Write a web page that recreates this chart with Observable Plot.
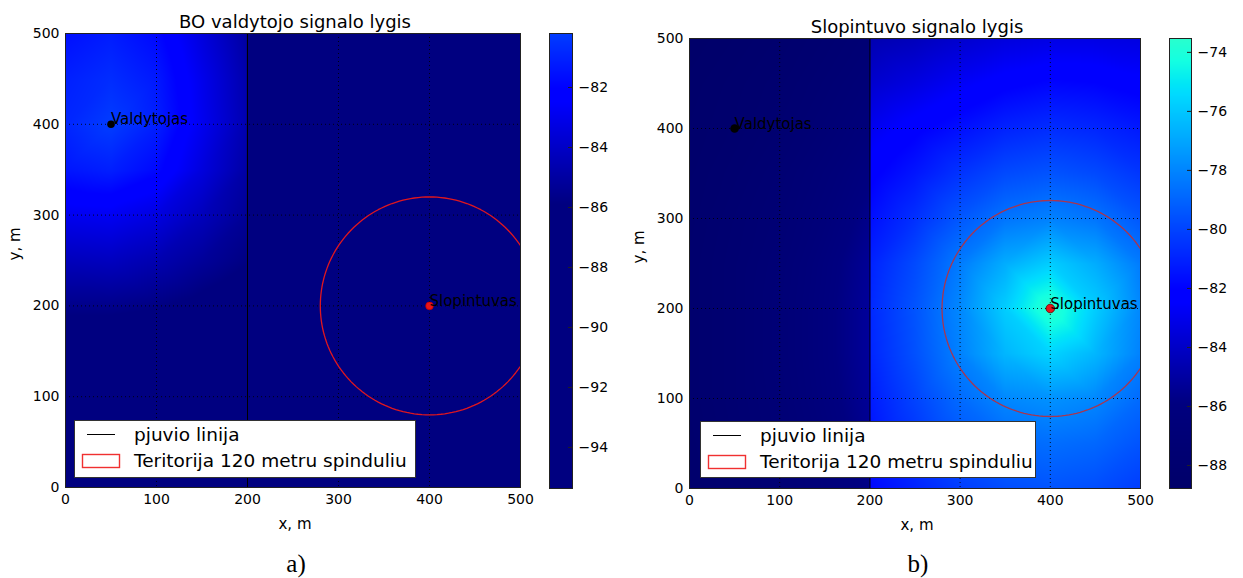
<!DOCTYPE html>
<html>
<head>
<meta charset="utf-8">
<script src="https://cdn.jsdelivr.net/npm/d3@7"></script>
<script src="https://cdn.jsdelivr.net/npm/@observablehq/plot@0.6"></script>
<style>
  body { margin: 0; background: #fff; }
  #chart { position: relative; width: 1243px; height: 578px; overflow: hidden; font-family: "DejaVu Sans", sans-serif; color: #000; }
  .legend { position: absolute; background: #fff; border: 1px solid #333; box-sizing: border-box; }
  .legend span { position: absolute; font-size: 18.5px; line-height: 22px; white-space: nowrap; }
</style>
</head>
<body>
<div id="chart"></div>
<script>
// Sample grid (metres). The two columns at 199/201 straddle the cut line.
const xCols = [0, 50, 100, 150, 199, 201, 250, 300, 350, 400, 450, 500];
const yRows = [500, 450, 400, 350, 300, 250, 200, 150, 100, 50, 0];

// Controller (BO) signal level, dBm — rows follow yRows, columns follow xCols
const levelA = [
  [-81.6, -81.2, -81.8, -83.4, -85.0, -90.2, -90.8, -91.5, -92.1, -92.6, -93.1, -93.5],
  [-81.1, -80.7, -81.3, -83.0, -84.7, -90.1, -90.7, -91.4, -92.0, -92.6, -93.1, -93.5],
  [-80.9, -80.2, -81.1, -82.9, -84.6, -90.0, -90.7, -91.4, -92.0, -92.6, -93.1, -93.6],
  [-81.4, -81.1, -81.8, -83.4, -84.9, -90.2, -90.8, -91.5, -92.1, -92.7, -93.2, -93.7],
  [-82.9, -82.8, -83.3, -84.3, -85.3, -90.5, -91.1, -91.7, -92.3, -92.9, -93.4, -93.8],
  [-84.3, -84.2, -84.6, -85.2, -85.8, -91.0, -91.5, -92.1, -92.6, -93.1, -93.6, -94.0],
  [-85.6, -85.6, -85.8, -86.2, -86.7, -91.5, -92.0, -92.5, -93.0, -93.5, -93.9, -94.3],
  [-87.0, -87.0, -87.2, -87.6, -88.0, -92.0, -92.5, -93.0, -93.4, -93.9, -94.3, -94.6],
  [-88.0, -88.0, -88.2, -88.5, -88.8, -92.6, -93.0, -93.4, -93.9, -94.3, -94.6, -94.9],
  [-89.0, -89.0, -89.0, -89.3, -89.6, -93.1, -93.5, -93.9, -94.3, -94.6, -94.9, -95.2],
  [-90.0, -90.0, -90.0, -90.2, -90.4, -93.6, -94.0, -94.3, -94.7, -95.0, -95.2, -95.37]
];

// Jammer signal level, dBm
const levelB = [
  [-88.78, -88.5, -88.2, -87.8, -87.3, -84.6, -84.3, -83.8, -83.4, -83.2, -83.2, -83.3],
  [-88.6, -88.3, -88.0, -87.5, -86.9, -83.8, -83.3, -82.7, -82.2, -81.9, -82.0, -82.3],
  [-88.5, -88.2, -87.8, -87.2, -86.5, -82.9, -82.2, -81.6, -81.0, -80.7, -80.9, -81.3],
  [-88.4, -88.0, -87.5, -86.8, -86.0, -82.2, -81.4, -80.5, -79.8, -79.5, -79.8, -80.4],
  [-88.3, -87.8, -87.3, -86.5, -85.6, -81.6, -80.6, -79.4, -78.5, -78.1, -78.5, -79.4],
  [-88.2, -87.7, -87.1, -86.2, -85.3, -81.0, -79.8, -78.3, -76.8, -75.8, -76.8, -78.3],
  [-88.2, -87.7, -87.0, -86.1, -85.2, -80.8, -79.5, -77.9, -75.8, -73.53, -75.8, -77.9],
  [-88.2, -87.7, -87.0, -86.1, -85.2, -80.9, -79.6, -78.1, -76.5, -75.6, -76.5, -78.1],
  [-88.2, -87.7, -87.1, -86.2, -85.3, -81.2, -80.0, -78.8, -77.9, -77.6, -77.9, -78.8],
  [-88.3, -87.8, -87.2, -86.4, -85.5, -81.5, -80.5, -79.5, -78.9, -78.7, -78.9, -79.5],
  [-88.4, -87.9, -87.3, -86.5, -85.7, -81.8, -81.0, -80.2, -79.7, -79.5, -79.7, -80.2]
];

const controller = {name: "Valdytojas", x: 50, y: 400};
const jammer = {name: "Slopintuvas", x: 400, y: 200};
const cutLineX = 200;
const territoryRadius = 120;

const axisTicks = [0, 100, 200, 300, 400, 500];
const gridTicks = [100, 300, 400];
const gridTicksY = [100, 200, 300, 400];
const colorTicksA = [-94, -92, -90, -88, -86, -84, -82];
const colorTicksB = [-88, -86, -84, -82, -80, -78, -76, -74];

const titles = ["BO valdytojo signalo lygis", "Slopintuvo signalo lygis"];
const captions = ["a)", "b)"];
const legendLabels = ["pjuvio linija", "Teritorija 120 metru spinduliu"];
const axisLabels = ["x, m", "y, m"];

// jet-style palette (level stops, colours)
const paletteLevelsA = [-96, -85.9, -82.5, -82.04, -75.4, -75.1, -74.3, -72.9];
const paletteColorsA = ["#000080", "#000080", "#0000ff", "#0000ff", "#00dbff", "#00e5f7", "#14ffe2", "#3affbd"];
const paletteLevelsB = [-89, -86.5, -85.9, -82.5, -82.04, -75.4, -75.1, -74.3, -72.9];
const paletteColorsB = ["#000068", "#00007a", "#000080", "#0000ff", "#0000ff", "#00dbff", "#00e5f7", "#14ffe2", "#3affbd"];

const chart = document.getElementById("chart");
function place(node, left, top) {
  node.style.position = "absolute";
  node.style.left = left + "px";
  node.style.top = top + "px";
  chart.appendChild(node);
  return node;
}

const baseStyle = {fontFamily: "DejaVu Sans, sans-serif", fontSize: "14px", color: "#000", background: "transparent", overflow: "visible"};

function colorScale(levels, colors) {
  return {type: "linear", domain: levels, range: colors, interpolate: "rgb", clamp: true};
}

function heatmap(levels, palette, title, cfg) {
  const points = [];
  yRows.forEach((y, i) => xCols.forEach((x, j) => points.push({x, y, v: levels[i][j]})));
  // territory boundary: circle of the stated radius around the jammer
  const ring = d3.range(0, 361, 2).map((a) => ({
    x: jammer.x + territoryRadius * Math.cos((a * Math.PI) / 180),
    y: jammer.y + territoryRadius * Math.sin((a * Math.PI) / 180)
  }));
  const cut = [{x: cutLineX, y: 0}, {x: cutLineX, y: 500}];
  return Plot.plot({
    width: cfg.marginLeft + cfg.frameW + 20,
    height: cfg.marginTop + cfg.frameH + 62,
    marginLeft: cfg.marginLeft,
    marginRight: 20,
    marginTop: cfg.marginTop,
    marginBottom: 62,
    style: baseStyle,
    x: {domain: [0, 500]},
    y: {domain: [0, 500]},
    color: colorScale(palette[0], palette[1]),
    marks: [
      Plot.raster(points, {x: "x", y: "y", fill: "v", interpolate: "barycentric", x1: 0, y1: 0, x2: 500, y2: 500, pixelSize: 1}),
      Plot.gridX(gridTicks, {stroke: "#000", strokeOpacity: 0.85, strokeDasharray: "1,3"}),
      Plot.gridY(gridTicksY, {stroke: "#000", strokeOpacity: 0.85, strokeDasharray: "1,3"}),
      Plot.line(ring, {x: "x", y: "y", stroke: cfg.circleStroke, strokeWidth: 1.3, clip: true}),
      Plot.line(cut, {x: "x", y: "y", stroke: "#000", strokeWidth: 1}),
      Plot.dot([controller], {x: "x", y: "y", r: cfg.dotR, fill: "#000"}),
      Plot.dot([jammer], {x: "x", y: "y", r: cfg.dotR, fill: "#e8141a", stroke: cfg.jammerEdge, strokeWidth: 0.8}),
      Plot.text([controller, jammer], {x: "x", y: "y", text: "name", textAnchor: "start", lineAnchor: "bottom", fontSize: 15, fill: "#000"}),
      Plot.frame({stroke: "#222"}),
      Plot.axisX(axisTicks, {tickSize: 0, tickPadding: 7, label: null, fontSize: 14}),
      Plot.axisY(axisTicks, {tickSize: 0, tickPadding: 6, label: null, fontSize: 14}),
      Plot.text([title], {frameAnchor: "top", lineAnchor: "bottom", dy: -6, dx: 2, fontSize: 18}),
      Plot.text([axisLabels[0]], {frameAnchor: "bottom", lineAnchor: "bottom", dy: 41, dx: 2, fontSize: 15}),
      Plot.text([axisLabels[1]], {frameAnchor: "left", rotate: -90, dx: -50, fontSize: 15})
    ]
  });
}

function colorbar(levels, palette, ticks, cfg) {
  const [lo, hi] = d3.extent(levels.flat());
  return Plot.plot({
    width: cfg.barW + 50,
    height: cfg.marginTop + cfg.barH + 10,
    marginLeft: 0,
    marginRight: 50,
    marginTop: cfg.marginTop,
    marginBottom: 10,
    style: baseStyle,
    x: {domain: [0, 1], axis: null},
    y: {domain: [lo, hi], axis: null},
    color: colorScale(palette[0], palette[1]),
    marks: [
      Plot.raster({fill: (x, y) => y, x1: 0, x2: 1, y1: lo, y2: hi, pixelSize: 1}),
      Plot.ruleY(ticks, {stroke: "#222", insetLeft: cfg.barW - 4}),
      Plot.frame({stroke: "#222"}),
      Plot.axisY(ticks, {anchor: "right", tickSize: 0, tickPadding: 6, label: null, fontSize: 14, tickFormat: d3.format("d")})
    ]
  });
}

function legend(left, top, width, height) {
  const box = document.createElement("div");
  box.className = "legend";
  box.style.width = width + "px";
  box.style.height = height + "px";
  const ns = "http://www.w3.org/2000/svg";
  const svg = document.createElementNS(ns, "svg");
  svg.setAttribute("width", 50);
  svg.setAttribute("height", height);
  svg.style.position = "absolute";
  svg.style.left = "0px";
  svg.style.top = "0px";
  const line = document.createElementNS(ns, "line");
  line.setAttribute("x1", 12); line.setAttribute("x2", 40);
  line.setAttribute("y1", 13.5); line.setAttribute("y2", 13.5);
  line.setAttribute("stroke", "#000"); line.setAttribute("stroke-width", 1);
  svg.appendChild(line);
  const patch = document.createElementNS(ns, "rect");
  patch.setAttribute("x", 7.5); patch.setAttribute("y", 33.5);
  patch.setAttribute("width", 37); patch.setAttribute("height", 13);
  patch.setAttribute("fill", "#fff"); patch.setAttribute("stroke", "#f03030"); patch.setAttribute("stroke-width", 1.4);
  svg.appendChild(patch);
  box.appendChild(svg);
  legendLabels.forEach((label, i) => {
    const s = document.createElement("span");
    s.textContent = label;
    s.style.left = "59px";
    s.style.top = (i === 0 ? 3 : 29) + "px";
    box.appendChild(s);
  });
  return place(box, left, top);
}

// Panel a
place(heatmap(levelA, [paletteLevelsA, paletteColorsA], titles[0],
  {marginLeft: 65, marginTop: 33, frameW: 455, frameH: 454, circleStroke: "#e0161e", dotR: 3.8, jammerEdge: "#c00"}), 0, 0);
place(colorbar(levelA, [paletteLevelsA, paletteColorsA], colorTicksA, {marginTop: 33, barW: 23, barH: 455}), 549, 0);
legend(74, 420, 342, 58);

// Panel b
place(heatmap(levelB, [paletteLevelsB, paletteColorsB], titles[1],
  {marginLeft: 65, marginTop: 38, frameW: 451, frameH: 450, circleStroke: "#a8364f", dotR: 4.3, jammerEdge: "#600"}), 624, 0);
place(colorbar(levelB, [paletteLevelsB, paletteColorsB], colorTicksB, {marginTop: 38, barW: 22, barH: 450}), 1169, 0);
legend(700, 421, 336, 57);

// Sub-figure captions
const cap = d3.select(chart).append("svg")
  .attr("width", 1243).attr("height", 578)
  .style("position", "absolute").style("left", "0px").style("top", "0px").style("pointer-events", "none");
cap.selectAll("text").data(captions).join("text")
  .attr("x", (d, i) => (i === 0 ? 296 : 918))
  .attr("y", 572)
  .attr("text-anchor", "middle")
  .attr("font-family", "Liberation Serif, Times New Roman, serif")
  .attr("font-size", 25)
  .text((d) => d);
</script>
</body>
</html>
